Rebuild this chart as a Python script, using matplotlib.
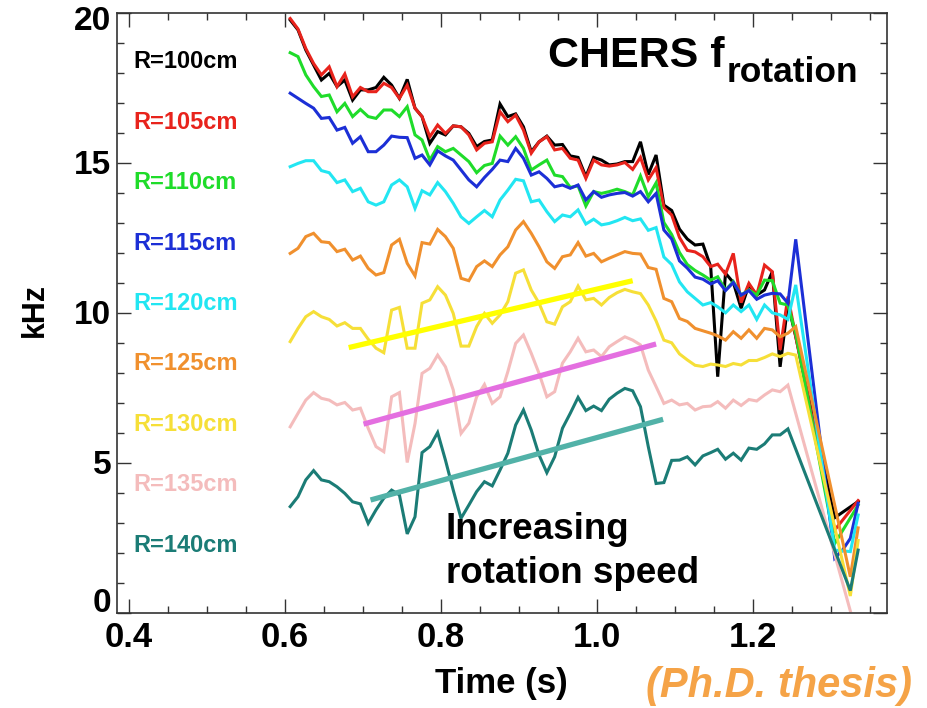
import matplotlib
matplotlib.use("Agg")
import matplotlib.pyplot as plt
from matplotlib.ticker import MultipleLocator
from matplotlib.transforms import ScaledTranslation
import numpy as np

# ---------------- data ----------------
TIME = [0.607, 0.617, 0.627, 0.637, 0.647, 0.657, 0.667, 0.677, 0.687, 0.697,
        0.707, 0.717, 0.727, 0.737, 0.747, 0.757, 0.767, 0.776, 0.786, 0.796,
        0.806, 0.816, 0.826, 0.836, 0.846, 0.856, 0.866, 0.876, 0.886, 0.896,
        0.906, 0.916, 0.926, 0.936, 0.946, 0.956, 0.966, 0.976, 0.986, 0.996,
        1.006, 1.016, 1.026, 1.036, 1.046, 1.056, 1.066, 1.076, 1.086, 1.096,
        1.106, 1.116, 1.126, 1.136, 1.146, 1.155, 1.165, 1.175, 1.185, 1.195,
        1.205, 1.215, 1.225, 1.235, 1.245, 1.255, 1.265, 1.275, 1.285, 1.295,
        1.305, 1.315, 1.325, 1.335]

N = None
R100 = ([19.75, 19.42, 18.75, 18.25, 17.75, 17.97, 17.53, 17.75, 17.08, 17.42,
         17.42, 17.5, 17.84, 17.58, 17.14, 17.77, 16.81, 16.53, 15.64, 16.03,
         15.92, 16.22, 16.19, 15.97, 15.53, 15.7]
        + [15.75, 16.95, 16.53, 16.62, 16.19, 15.36, 15.69, 15.88, 15.58, 15.6,
           15.22, 15.17, 14.53, 15.17, 15.08, 14.92, 14.95, 15.03, 15.03, 15.69,
           14.6, 15.25, 13.58, 13.4, 12.78, 12.45, 12.25]
        + [12.28, 11.53, 7.86, 11.31, 11.0, 10.14, 10.92, 10.58, 10.75, 11.36,
           8.19, 10.3, 9.2]
        + [N, N, N, N, 3.16, N, N, 3.7])
R105 = ([19.8, 19.45, 18.8, 18.3, 17.92, 18.19, 17.53, 17.95, 17.19, 17.5,
         17.36, 17.36, 17.64, 17.5, 17.14, 17.58, 16.81, 16.53, 15.86, 16.25,
         15.97, 16.22, 16.19, 15.92, 15.42, 15.64]
        + [15.69, 16.69, 16.36, 16.58, 16.08, 15.31, 15.69, 15.86, 15.42, 15.47,
           15.14, 15.08, 14.47, 15.08, 14.92, 14.88, 14.92, 15.0, 14.77]
        + [15.17, 14.42, 14.83, 13.5, 13.25, 12.5, 12.07, 12.02, 11.86, 11.53,
           11.61, 11.28, 11.97, 10.33, 10.97, 10.58, 11.58, 11.36, 8.75, 10.53, 9.2]
        + [N, N, N, N, 2.75, N, N, 3.73])
R110 = ([18.66, 18.53, 17.92, 17.53, 17.2, 17.25, 16.69, 16.97, 16.53, 16.77,
         16.53, 16.47, 16.75, 16.75, 16.53, 16.86, 15.92, 15.75, 15.08, 15.53,
         15.36, 15.47, 15.25, 15.03, 14.66, 14.9]
        + [14.97, 15.88, 15.58, 15.86, 15.47, 14.75, 14.92, 15.08, 14.58, 14.53,
           14.17, 14.22, 13.55, 14.03, 13.97, 14.03, 14.11, 14.03, 13.92]
        + [14.55, 13.86, 14.32, 13.0, 12.6, 12.0, 11.6, 11.4, 11.25, 11.08,
           11.19, 10.75, 11.03, 10.58, 10.75, 10.58, 11.08, 11.06, 10.31, 10.25, 9.3]
        + [N, N, N, N, 2.3, N, N, 3.58])
R115 = ([17.31, 17.14, 16.97, 16.81, 16.47, 16.5, 16.08, 16.17, 15.64, 15.86,
         15.36, 15.36, 15.58, 15.88, 15.84, 15.83, 15.14, 15.25, 14.92, 15.39,
         15.22, 15.08, 14.75, 14.42, 14.19, 14.5]
        + [14.77, 15.08, 15.03, 15.47, 15.14, 14.58, 14.69, 14.47, 14.19, 14.25,
           14.14, 14.25, 13.75, 14.03, 13.84, 13.92, 13.97, 14.0, 13.88]
        + [14.03, 13.69, 13.97, 12.75, 12.45, 11.72, 11.48, 11.18, 11.11, 10.95,
           11.06, 10.73, 11.0, 10.58, 10.73, 10.44, 10.58, 10.64, 10.62, 10.31, 12.44]
        + [N, N, N, N, 1.81, 2.08, 2.47, 3.64])
R120 = ([14.86, 14.97, 15.06, 15.06, 14.73, 14.66, 14.33, 14.42, 14.03, 14.14,
         13.69, 13.58, 13.69, 14.25, 14.42, 14.19, 13.47, 14.06, 13.92, 14.33,
         14.03, 13.64, 13.19, 12.97, 13.19, 13.4]
        + [13.19, 13.75, 14.08, 14.44, 14.39, 13.69, 13.75, 13.36, 13.03, 13.25,
           13.19, 13.42, 12.95, 13.11, 12.92, 12.97, 13.06, 13.17, 13.06]
        + [13.12, 12.74, 12.83, 11.85, 11.6, 11.02, 10.69, 10.47, 10.25, 10.33,
           10.19, 9.99, 10.25, 10.03, 10.25, 9.77, 10.25, 9.99, 9.92, 9.77, 10.92]
        + [N, N, N, N, 2.08, N, 2.03, 3.25])
R125 = ([11.97, 12.14, 12.53, 12.64, 12.36, 12.33, 12.03, 12.11, 11.75, 11.88,
         11.47, 11.25, 11.33, 12.25, 12.44, 11.64, 11.22, 12.33, 12.28, 12.77,
         12.53, 12.14, 11.14, 11.06, 11.53, 11.72]
        + [11.53, 11.92, 12.19, 12.75, 13.03, 12.64, 12.19, 11.69, 11.47, 11.86,
           11.92, 12.33, 11.88, 11.97, 11.69, 11.81, 11.92, 12.03, 11.97]
        + [11.95, 11.5, 11.44, 10.47, 10.36, 9.8, 9.7, 9.47, 9.39, 9.31,
           9.22, 9.08, 9.36, 9.14, 9.42, 9.14, 9.47, 9.42, 9.19, 9.31, 9.53]
        + [N, N, N, N, N, N, 1.19, 2.82])
R130 = ([9.03, 9.47, 9.86, 10.03, 9.86, 9.77, 9.55, 9.66, 9.47, 9.47,
         9.11, 8.81, 8.66, 10.08, 10.17, 8.81, 8.81, 10.31, 10.42, 10.86,
         10.58, 9.97, 8.88, 8.88, 9.53, 9.97]
        + [9.64, 9.92, 10.36, 11.31, 11.42, 10.75, 10.31, 9.69, 9.61, 10.19,
           10.36, 10.88, 10.42, 10.47, 10.25, 10.5, 10.66, 10.77, 10.69]
        + [10.63, 10.25, 9.72, 9.08, 8.99, 8.62, 8.42, 8.24, 8.2, 8.28,
           8.25, 8.2, 8.3, 8.25, 8.4, 8.4, 8.5, 8.62, 8.53, 8.64, 8.58]
        + [N, N, N, N, N, N, 0.55, 2.4])
R135 = ([6.19, 6.64, 7.08, 7.33, 7.14, 7.08, 6.92, 7.0, 6.75, 6.81,
         6.14, 5.53, 5.36, 7.19, 7.33, 5.0, 6.3, 7.97, 8.14, 8.58,
         8.19, 7.42, 5.97, 6.31, 7.19, 7.6]
        + [6.97, 7.19, 8.03, 8.97, 9.25, 8.64, 7.97, 7.19, 7.36, 8.31,
           8.69, 9.14, 8.69, 8.75, 8.53, 8.86, 9.03, 9.19, 9.08]
        + [8.92, 8.08, 7.53, 6.97, 7.08, 6.92, 6.97, 6.75, 6.86, 6.88,
           7.03, 6.81, 7.08, 6.9, 7.1, 7.05, 7.25, 7.42, 7.36, 7.58]
        + [N, N, N, N, N, N, N, 0.05, N])
R140 = ([3.53, 3.86, 4.42, 4.73, 4.42, 4.36, 4.19, 3.97, 3.69, 3.62,
         2.97, 3.42, 3.81, 4.08, 3.92, 2.62, 3.19, 5.33, 5.53, 6.0,
         5.08, 4.08, 3.14, 3.58, 4.03, 4.36]
        + [4.22, 4.75, 5.31, 6.25, 6.75, 6.08, 5.25, 4.66, 5.19, 6.14,
           6.64, 7.17, 6.73, 6.88, 6.73, 7.11, 7.31, 7.47, 7.39]
        + [6.86, 5.53, 4.3, 4.33, 5.07, 5.08, 5.19, 4.92, 5.22, 5.33,
           5.44, 5.11, 5.31, 5.08, 5.48, 5.44, 5.62, 5.92, 5.92, 6.12]
        + [N, N, N, N, N, N, N, 0.73, 2.08])

SERIES = [R100, R105, R110, R115, R120, R125, R130, R135, R140]
LABELS = ["R=100cm", "R=105cm", "R=110cm", "R=115cm", "R=120cm",
          "R=125cm", "R=130cm", "R=135cm", "R=140cm"]
COLORS = ["#000000", "#e8231c", "#1fdc2a", "#1c2fd6", "#22e6f2",
          "#f0902e", "#f6df38", "#f4bcbc", "#1b7c76"]

# trend lines (start/end)
TREND_T = [[0.682, 1.046], [0.701, 1.076], [0.710, 1.085]]
TREND_V = [[8.83, 11.06], [6.28, 8.95], [3.75, 6.44]]
TREND_C = ["#ffff00", "#e46fe0", "#52b2a8"]

XTICKS = [0.4, 0.6, 0.8, 1.0, 1.2]
XTICKLABELS = ["0.4", "0.6", "0.8", "1.0", "1.2"]
YTICKS = [0, 5, 10, 15, 20]
YTICKLABELS = ["0", "5", "10", "15", "20"]

for s in SERIES:
    assert len(s) == len(TIME), len(s)

BOLD = ["Liberation Sans", "DejaVu Sans"]

# ---------------- figure ----------------
W, H = 928, 708
fig = plt.figure(figsize=(W / 100, H / 100), dpi=100)
L, R, T, B = 117, 887, 12.5, 612.5
ax = fig.add_axes([L / W, 1 - B / H, (R - L) / W, (B - T) / H])
ax.set_xlim(0.385, 1.372)
ax.set_ylim(0, 20)

for vals, c in zip(SERIES, COLORS):
    t = [tt for tt, v in zip(TIME, vals) if v is not None]
    v = [vv for vv in vals if vv is not None]
    ax.plot(t, v, color=c, lw=2.2, solid_joinstyle="miter", zorder=2)

for tt, vv, c in zip(TREND_T, TREND_V, TREND_C):
    ax.plot(tt, vv, color=c, lw=3.8, solid_capstyle="butt", zorder=3)

for i, (lab, c) in enumerate(zip(LABELS, COLORS)):
    ax.text(0.4055, 18.35 - 2.013 * i, lab, color=c, fontsize=17,
            fontweight="bold", family=BOLD, ha="left", va="center", zorder=4)

# ticks
ax.set_xticks(XTICKS)
ax.set_xticklabels(XTICKLABELS, fontsize=25, fontweight="bold", family=BOLD)
ax.xaxis.set_minor_locator(MultipleLocator(0.05))
ax.set_yticks(YTICKS)
ax.set_yticklabels(YTICKLABELS, fontsize=24, fontweight="bold", family=BOLD)
ax.yaxis.set_minor_locator(MultipleLocator(1))
ax.tick_params(which="both", direction="in", top=True, right=True, width=1.0,
               color="#333333")
ax.tick_params(which="major", length=10)
ax.tick_params(which="minor", length=5)
ax.tick_params(axis="x", pad=6)
ax.tick_params(axis="y", pad=4)
yl = ax.get_yticklabels()
yl[0].set_transform(yl[0].get_transform() + ScaledTranslation(0, 12 / 100, fig.dpi_scale_trans))
yl[-1].set_transform(yl[-1].get_transform() + ScaledTranslation(0, -6 / 100, fig.dpi_scale_trans))
for sp in ax.spines.values():
    sp.set_linewidth(1.2)
    sp.set_color("#333333")

# axis labels
fig.text(35 / W, 1 - 310 / H, "kHz", rotation=90, ha="center", va="center",
         fontsize=22, fontweight="bold", family=BOLD)
fig.text(501 / W, 1 - 683 / H, "Time (s)", ha="center", va="center",
         fontsize=25, fontweight="bold", family=BOLD)

# title
fig.text(725 / W, 1 - 67 / H, "CHERS f", ha="right", va="baseline",
         fontsize=31, fontweight="bold", family=BOLD)
fig.text(727 / W, 1 - 82 / H, "rotation", ha="left", va="baseline",
         fontsize=25.5, fontweight="bold", family=BOLD)

# annotation
fig.text(446 / W, 1 - 539 / H, "Increasing", ha="left", va="baseline",
         fontsize=26.5, fontweight="bold", family=BOLD, zorder=5)
fig.text(446 / W, 1 - 583 / H, "rotation speed", ha="left", va="baseline",
         fontsize=26.5, fontweight="bold", family=BOLD, zorder=5)

fig.text(912 / W, 1 - 697 / H, "(Ph.D. thesis)", ha="right", va="baseline",
         fontsize=30, fontweight="bold", style="italic", color="#f5a347",
         family=BOLD)

fig.savefig("out.png", dpi=100)
